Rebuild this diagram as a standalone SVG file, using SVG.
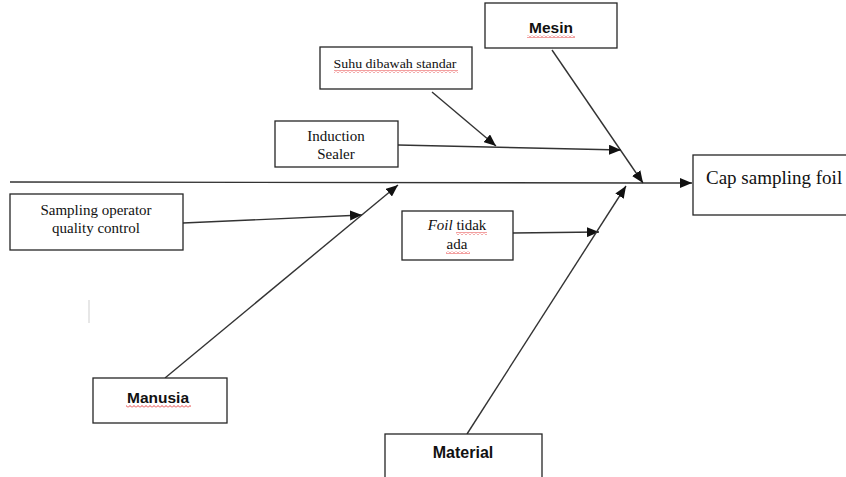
<svg xmlns="http://www.w3.org/2000/svg" width="846" height="477" viewBox="0 0 846 477">
<style>
.box{fill:#fff;stroke:#262626;stroke-width:1.3}
.ln{stroke:#333;stroke-width:1.4;fill:none}
.ar{marker-end:url(#ah)}
.serif{font-family:"Liberation Serif","Times New Roman",serif;fill:#111;font-size:15px}
.sans{font-family:"Liberation Sans",Arial,sans-serif;font-weight:bold;fill:#111;font-size:15.5px}
.wavy{fill:url(#wave)}
</style>
<defs>
<marker id="ah" markerUnits="userSpaceOnUse" markerWidth="13" markerHeight="10" refX="12" refY="5" orient="auto">
<path d="M0,0 L12,5 L0,10 z" fill="#111"/>
</marker>
<pattern id="wave" patternUnits="userSpaceOnUse" width="4" height="3">
<path d="M0,2.5 L2,0.5 L4,2.5" stroke="#e01010" stroke-width="0.8" fill="none"/>
</pattern>
</defs>
<g id="connectors">
<line class="ln" x1="10" y1="182" x2="642" y2="183"/>
<line class="ln ar" x1="642" y1="183" x2="692" y2="183"/>
<line class="ln ar" x1="552" y1="50" x2="643" y2="183"/>
<line class="ln ar" x1="432" y1="92" x2="496" y2="146"/>
<line class="ln ar" x1="398" y1="145" x2="621" y2="150"/>
<line class="ln ar" x1="183" y1="223" x2="362" y2="215"/>
<line class="ln ar" x1="165" y1="378" x2="398" y2="185"/>
<line class="ln ar" x1="513" y1="233" x2="599" y2="232"/>
<line class="ln ar" x1="467" y1="434" x2="626" y2="186"/>
</g>
<line x1="89" y1="300" x2="89" y2="323" stroke="#cfcfcf" stroke-width="1"/>
<g id="mesin">
<rect class="box" x="485" y="3" width="132" height="45"/>
<text class="sans" x="551" y="33" text-anchor="middle">Mesin</text>
<rect class="wavy" x="527" y="35" width="48" height="3"/>
</g>
<g id="suhu">
<rect class="box" x="320" y="47" width="152" height="42"/>
<text class="serif" x="395" y="68" text-anchor="middle" style="font-size:13.5px" textLength="123" lengthAdjust="spacingAndGlyphs">Suhu dibawah standar</text>
<rect class="wavy" x="334" y="70" width="124" height="3"/>
</g>
<g id="induction">
<rect class="box" x="275" y="121" width="123" height="46"/>
<text class="serif" x="336" y="141" text-anchor="middle">Induction</text>
<text class="serif" x="336" y="159" text-anchor="middle">Sealer</text>
</g>
<g id="sampling">
<rect class="box" x="10" y="194" width="173" height="56"/>
<text class="serif" x="96" y="215" text-anchor="middle">Sampling operator</text>
<text class="serif" x="96" y="233" text-anchor="middle">quality control</text>
</g>
<g id="foil">
<rect class="box" x="402" y="211" width="111" height="49"/>
<text class="serif" x="457" y="230" text-anchor="middle"><tspan font-style="italic">Foil</tspan> tidak</text>
<rect class="wavy" x="456" y="232" width="31" height="3"/>
<text class="serif" x="457" y="249" text-anchor="middle">ada</text>
<rect class="wavy" x="446" y="251" width="24" height="3"/>
</g>
<g id="cap">
<rect class="box" x="693" y="155" width="160" height="60"/>
<text class="serif" x="706" y="184" style="font-size:19px">Cap sampling foil</text>
</g>
<g id="manusia">
<rect class="box" x="93" y="378" width="134" height="45"/>
<text class="sans" x="158" y="403" text-anchor="middle">Manusia</text>
<rect class="wavy" x="126" y="405" width="65" height="3"/>
</g>
<g id="material">
<rect class="box" x="385" y="434" width="157" height="50"/>
<text class="sans" x="463" y="458" text-anchor="middle" style="font-size:16px">Material</text>
</g>
</svg>
